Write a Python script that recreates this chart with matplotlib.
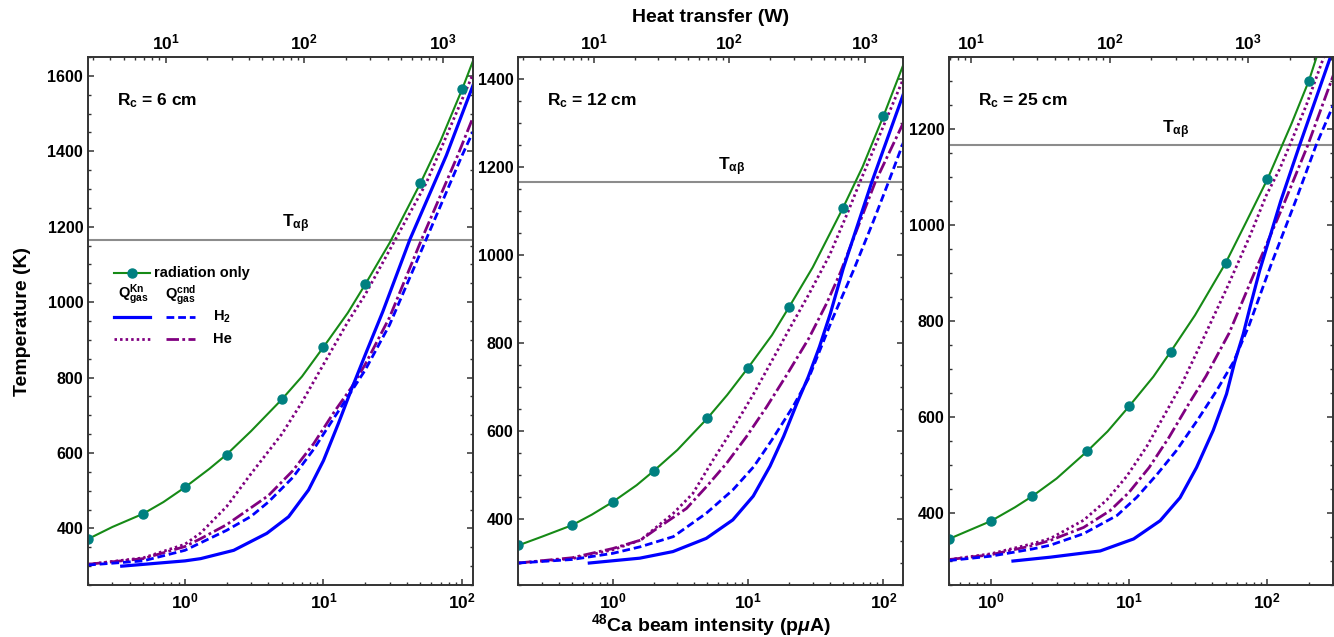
#!/usr/bin/env python3
"""Target temperature vs 48Ca beam intensity for three R_c values:
radiation only vs. radiation + gas cooling (H2 / He, Knudsen and conductive regimes)."""
import matplotlib
matplotlib.use("Agg")
import matplotlib.pyplot as plt
import numpy as np
from matplotlib.ticker import FuncFormatter, LogLocator, MultipleLocator, NullFormatter
from matplotlib.transforms import blended_transform_factory

OUT = "out.png"
HEAT_PER_PUA = 13.8      # W per p-uA, top axis
T_AB = 1166              # alpha-beta transition (K)

# ---- R_c = 6 cm ----
R6_RAD_I = [0.2, 0.3, 0.5, 0.7, 1, 1.5, 2, 3, 5, 7, 10, 15, 20, 30, 50, 70, 100, 120]
R6_RAD_T = [372, 404, 439, 470, 509, 558, 596, 658, 742, 803, 881, 972, 1047, 1157, 1315, 1428, 1564, 1640]
R6_MARK_I = [0.2, 0.5, 1, 2, 5, 10, 20, 50, 100]
R6_KN_H2_I = [0.35, 1, 1.3, 2.25, 3.9, 5.6, 7.8, 10, 12.8, 16, 20.5, 26.8, 42, 77, 120]
R6_KN_H2_T = [300, 314, 320, 342, 387, 431, 502, 580, 678, 771, 870, 975, 1166, 1389, 1575]
R6_CND_H2_I = [0.2, 0.5, 1, 1.3, 2, 3, 4, 6, 8.5, 12, 16, 20, 30, 55, 100, 120]
R6_CND_H2_T = [303, 314, 342, 362, 395, 432, 470, 535, 610, 695, 765, 820, 940, 1166, 1389, 1452]
R6_KN_HE_I = [0.2, 0.5, 1, 1.3, 2, 3, 5, 7, 10, 15, 20, 33, 55, 120]
R6_KN_HE_T = [305, 322, 358, 388, 458, 545, 650, 735, 835, 948, 1020, 1166, 1315, 1605]
R6_CND_HE_I = [0.2, 0.5, 1, 1.3, 2, 3, 4, 6, 8.5, 12, 16, 20, 30, 51, 93, 120]
R6_CND_HE_T = [305, 320, 352, 373, 410, 455, 487, 553, 625, 710, 775, 835, 960, 1166, 1389, 1490]

# ---- R_c = 12 cm ----
R12_RAD_I = [0.2, 0.3, 0.5, 0.7, 1, 1.5, 2, 3, 5, 7, 10, 15, 20, 30, 50, 70, 100, 140]
R12_RAD_T = [340, 360, 386, 410, 439, 477, 509, 557, 629, 682, 744, 818, 881, 972, 1106, 1200, 1316, 1432]
R12_MARK_I = [0.2, 0.5, 1, 2, 5, 10, 20, 50, 100]
R12_KN_H2_I = [0.67, 1.58, 2.78, 4.9, 7.7, 10.9, 14.5, 18.3, 23, 27.8, 33.6, 40.5, 50.5, 82, 140]
R12_KN_H2_T = [300, 311, 326, 356, 398, 452, 520, 588, 664, 723, 791, 867, 970, 1166, 1365]
R12_CND_H2_I = [0.2, 0.5, 1, 1.6, 2.8, 4.9, 7.7, 11, 15, 21.5, 28, 42, 60, 84, 109, 140]
R12_CND_H2_T = [300, 308, 322, 337, 360, 413, 466, 519, 580, 656, 720, 855, 965, 1076, 1166, 1255]
R12_KN_HE_I = [0.2, 0.5, 1, 1.6, 2.8, 3.9, 5.5, 7.7, 11, 15, 20, 28, 40, 55, 67, 140]
R12_KN_HE_T = [300, 310, 330, 352, 413, 458, 534, 605, 685, 760, 830, 910, 1000, 1100, 1166, 1400]
R12_CND_HE_I = [0.2, 0.5, 1, 1.6, 2.2, 3.5, 4.9, 6.9, 9.7, 13.7, 19.5, 28, 38, 48, 87, 140]
R12_CND_HE_T = [300, 312, 333, 352, 382, 424, 473, 526, 587, 655, 730, 810, 890, 960, 1166, 1300]

# ---- R_c = 25 cm ----
R25_RAD_I = [0.5, 0.7, 1, 1.5, 2, 3, 5, 7, 10, 15, 20, 30, 50, 70, 100, 150, 200, 230]
R25_RAD_T = [346, 364, 383, 412, 435, 472, 529, 570, 622, 684, 736, 812, 921, 1005, 1095, 1212, 1301, 1355]
R25_MARK_I = [0.5, 1, 2, 5, 10, 20, 50, 100, 200]
R25_KN_H2_I = [1.45, 2.7, 6.2, 10.8, 16.8, 23.4, 30.8, 40.6, 50.7, 58, 67, 75, 88, 125, 171, 290]
R25_KN_H2_T = [300, 308, 321, 346, 384, 432, 495, 572, 648, 714, 773, 829, 905, 1050, 1166, 1355]
R25_CND_H2_I = [0.5, 1, 2, 2.7, 4.7, 8.2, 11.4, 15.9, 22, 31, 43, 57, 74, 106, 160, 225, 300]
R25_CND_H2_T = [301, 310, 325, 333, 357, 395, 433, 480, 530, 592, 655, 715, 792, 916, 1050, 1166, 1250]
R25_KN_HE_I = [0.5, 1, 2, 2.7, 4.7, 6.9, 9.6, 13.4, 17.7, 24, 34.4, 50.7, 75, 98, 123, 145, 191, 238, 260]
R25_KN_HE_T = [303, 315, 336, 347, 385, 427, 476, 538, 600, 668, 763, 867, 978, 1061, 1117, 1166, 1249, 1325, 1355]
R25_CND_HE_I = [0.5, 1, 2, 2.7, 4.7, 7.3, 10, 14, 19.4, 27, 36, 53, 85, 130, 196, 300]
R25_CND_HE_T = [303, 313, 332, 343, 370, 405, 443, 495, 557, 627, 685, 775, 916, 1040, 1166, 1312]

GREEN = "#168a16"
TEAL = "#008080"
BLUE = "#0000ff"
PURPLE = "#800080"
GREY = "#8c8c8c"

STYLE = {
    "kn_h2": dict(color=BLUE, lw=2.3, ls="-"),
    "cnd_h2": dict(color=BLUE, lw=2.0, dashes=(2.8, 1.4)),
    "kn_he": dict(color=PURPLE, lw=2.0, dashes=(0.9, 1.1)),
    "cnd_he": dict(color=PURPLE, lw=2.0, dashes=(4.5, 1.2, 1.0, 1.2)),
}

PANELS = [
    dict(rc="6", rect=(0.066, 0.0816, 0.2886, 0.8289), xlim=(0.2, 120), ylim=(250, 1650), tab_x=0.538,
         rad=(R6_RAD_I, R6_RAD_T), marks=R6_MARK_I,
         curves=[("kn_he", R6_KN_HE_I, R6_KN_HE_T), ("cnd_he", R6_CND_HE_I, R6_CND_HE_T),
                 ("cnd_h2", R6_CND_H2_I, R6_CND_H2_T), ("kn_h2", R6_KN_H2_I, R6_KN_H2_T)]),
    dict(rc="12", rect=(0.3885, 0.0816, 0.2886, 0.8289), xlim=(0.2, 140), ylim=(250, 1450), tab_x=0.554,
         rad=(R12_RAD_I, R12_RAD_T), marks=R12_MARK_I,
         curves=[("kn_he", R12_KN_HE_I, R12_KN_HE_T), ("cnd_he", R12_CND_HE_I, R12_CND_HE_T),
                 ("cnd_h2", R12_CND_H2_I, R12_CND_H2_T), ("kn_h2", R12_KN_H2_I, R12_KN_H2_T)]),
    dict(rc="25", rect=(0.7114, 0.0816, 0.2881, 0.8289), xlim=(0.5, 300), ylim=(250, 1350), tab_x=0.589,
         rad=(R25_RAD_I, R25_RAD_T), marks=R25_MARK_I,
         curves=[("kn_he", R25_KN_HE_I, R25_KN_HE_T), ("cnd_he", R25_CND_HE_I, R25_CND_HE_T),
                 ("cnd_h2", R25_CND_H2_I, R25_CND_H2_T), ("kn_h2", R25_KN_H2_I, R25_KN_H2_T)]),
]

plt.rcParams.update({
    "font.family": "Liberation Sans",
    "font.weight": "bold",
    "mathtext.fontset": "custom",
    "mathtext.rm": "Liberation Sans:bold",
    "mathtext.bf": "Liberation Sans:bold",
    "mathtext.it": "Liberation Sans:italic",
    "mathtext.default": "bf",
    "axes.linewidth": 1.2,
    "axes.edgecolor": "#333333",
    "xtick.color": "#333333",
    "ytick.color": "#333333",
    "xtick.labelcolor": "black",
    "ytick.labelcolor": "black",
})


def decade_label(v, _pos):
    return r"$10^{%d}$" % int(round(np.log10(v)))


def log_ticks(axis):
    axis.set_major_locator(LogLocator(base=10))
    axis.set_minor_locator(LogLocator(base=10, subs=np.arange(2, 10)))
    axis.set_major_formatter(FuncFormatter(decade_label))
    axis.set_minor_formatter(NullFormatter())


def draw_key(ax):
    tr = ax.transAxes
    ax.plot([0.068, 0.161], [0.591, 0.591], color=GREEN, lw=1.5, transform=tr, clip_on=False)
    ax.plot([0.114], [0.591], "o", color=TEAL, ms=6.5, transform=tr, clip_on=False)
    ax.text(0.171, 0.591, "radiation only", transform=tr, va="center", fontsize=10.5)
    ax.text(0.119, 0.549, r"$Q_{gas}^{Kn}$", transform=tr, ha="center", va="center", fontsize=10.5)
    ax.text(0.240, 0.549, r"$Q_{gas}^{cnd}$", transform=tr, ha="center", va="center", fontsize=10.5)
    for y, left, right, lab in [(0.508, "kn_h2", "cnd_h2", r"H$_2$"), (0.465, "kn_he", "cnd_he", "He")]:
        ax.plot([0.068, 0.161], [y, y], transform=tr, clip_on=False, **STYLE[left])
        ax.plot([0.203, 0.278], [y, y], transform=tr, clip_on=False, **STYLE[right])
        ax.text(0.325, y, lab, transform=tr, va="center", fontsize=10.5)


def main() -> None:
    fig = plt.figure(figsize=(13.34, 6.37), dpi=100)
    for i, p in enumerate(PANELS):
        ax = fig.add_axes(p["rect"])
        ax.set_xscale("log")
        ax.set_xlim(*p["xlim"])
        ax.set_ylim(*p["ylim"])

        ax.axhline(T_AB, color=GREY, lw=1.5, zorder=1)
        bt = blended_transform_factory(ax.transAxes, ax.transData)
        ax.annotate(r"T$_{\alpha\beta}$", xy=(p["tab_x"], T_AB), xycoords=bt, xytext=(0, 3),
                    textcoords="offset points", ha="center", va="bottom", fontsize=12.5)

        for key, xs, ys in p["curves"]:
            ax.plot(xs, ys, zorder=3, **STYLE[key])
        rx, ry = p["rad"]
        idx = list(np.flatnonzero(np.isin(rx, p["marks"])))
        ax.plot(rx, ry, color=GREEN, lw=1.5, marker="o", ms=6.5, mfc=TEAL, mec=TEAL,
                markevery=idx, zorder=4, clip_on=True)

        ax.text(0.075, 0.918, r"R$_c$ = %s cm" % p["rc"], transform=ax.transAxes,
                va="center", fontsize=12.5)

        log_ticks(ax.xaxis)
        ax.yaxis.set_major_locator(MultipleLocator(200))
        ax.yaxis.set_minor_locator(MultipleLocator(50))

        tw = ax.twiny()
        tw.set_xscale("log")
        tw.set_xlim(p["xlim"][0] * HEAT_PER_PUA, p["xlim"][1] * HEAT_PER_PUA)
        log_ticks(tw.xaxis)
        tw.tick_params(axis="x", which="both", direction="in", labelsize=12.5, pad=3)
        tw.tick_params(axis="x", which="major", length=4.5, width=1.1)
        tw.tick_params(axis="x", which="minor", length=2.3, width=1.0)

        ax.tick_params(axis="both", which="both", direction="in", labelsize=11.5)
        ax.tick_params(axis="x", labelsize=12.5)
        ax.tick_params(axis="y", which="both", left=True, right=True)
        ax.tick_params(axis="x", which="both", bottom=True, top=False, pad=5)
        ax.tick_params(which="major", length=4.5, width=1.1)
        ax.tick_params(which="minor", length=2.3, width=1.0)

        if i == 0:
            draw_key(ax)

    mid = PANELS[1]["rect"]
    xc = mid[0] + mid[2] / 2
    fig.text(xc, 0.973, "Heat transfer (W)", ha="center", va="center", fontsize=14)
    fig.text(xc, 0.019, r"$^{48}$Ca beam intensity (p$\mathit{\mu}$A)", ha="center", va="center",
             fontsize=14)
    fig.text(0.0165, 0.496, "Temperature (K)", rotation=90, ha="center", va="center", fontsize=14)

    fig.savefig(OUT, dpi=100)


if __name__ == "__main__":
    main()
